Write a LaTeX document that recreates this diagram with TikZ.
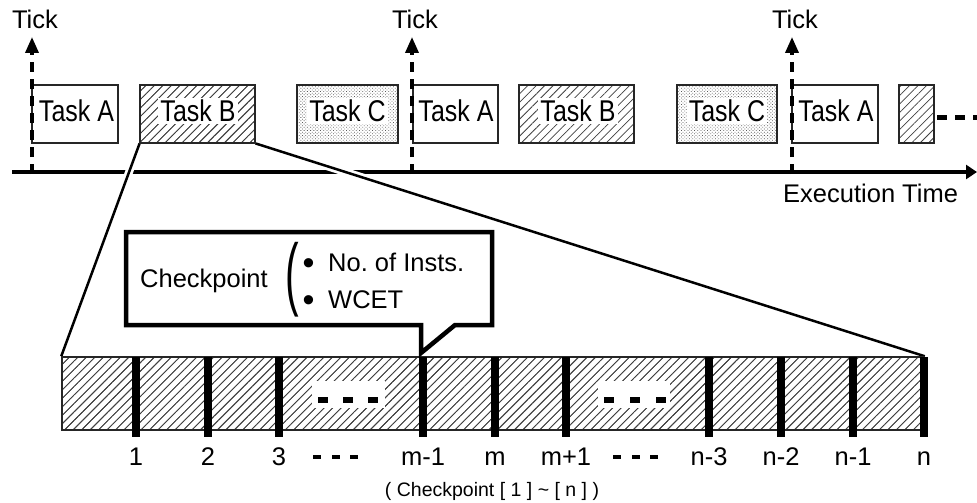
\documentclass[tikz,border=0pt]{standalone}
\usepackage{fontspec}
\setmainfont{Liberation Sans}
\usetikzlibrary{patterns.meta,arrows.meta}

\begin{document}
\begin{tikzpicture}[x=1pt,y=-1pt,
  lbl/.style={font=\fontsize{25.5}{30}\selectfont, inner sep=0pt},
  smalllbl/.style={font=\fontsize{19.5}{23}\selectfont, inner sep=0pt},
  bulletmark/.style={font=\fontsize{34}{36}\selectfont, inner sep=0pt},
  tasktxt/.style={font=\fontsize{25}{30}\selectfont, fill=white, inner xsep=2pt, inner ysep=2.5pt,
                  text height=21.5pt, text depth=0pt},
  taskbox/.style={draw=black!85, line width=1.4pt, minimum height=58pt, inner sep=0pt},
  hatch/.style={pattern={Lines[angle=45,distance=6pt,line width=0.75pt]}, pattern color=black!75},
  dotfill/.style={pattern={Dots[angle=45,distance=2.3pt,radius=0.55pt]}, pattern color=black!65},
  tickarrow/.style={line width=3.5pt, dash pattern=on 10pt off 7pt,
                    -{Triangle[width=13pt,length=16pt]}},
  timeaxis/.style={line width=4pt, -{Triangle[width=14pt,length=11pt]}},
  zoomline/.style={line width=2.5pt, preaction={draw=white, line width=8pt}},
  callout/.style={draw, fill=white, line width=4.5pt, line join=miter},
  cpbar/.style={fill=black, minimum width=8.5pt, minimum height=80pt, inner sep=0pt},
  seqbar/.style={draw=black!85, line width=1.5pt, hatch, inner sep=0pt},
  gap/.style={fill=white},
  bigdash/.style={fill=black}
]
\useasboundingbox (0,0) rectangle (977,503);
\newcommand{\tallname}[1]{\scalebox{1}[1.2]{#1}}

% time axis
\coordinate (ax0) at (12,172);
\coordinate (ax1) at (977,172);
\draw[timeaxis] (ax0) -- (ax1);
\node[lbl, anchor=base west] (exec) at (783,202) {Execution Time};

% scheduled task instances
\node[taskbox, minimum width=86pt] (a1) at (75,114) {};
\node[taskbox, hatch, minimum width=115pt] (b1) at (197.5,114) {};
\node[taskbox, dotfill, minimum width=101pt] (c1) at (347.5,114) {};
\node[taskbox, minimum width=85pt] (a2) at (455.5,114) {};
\node[taskbox, hatch, minimum width=115pt] (b2) at (576.5,114) {};
\node[taskbox, dotfill, minimum width=100pt] (c2) at (727,114) {};
\node[taskbox, minimum width=86pt] (a3) at (835,114) {};
\node[taskbox, hatch, minimum width=35pt] (b3) at (916.5,114) {};

% zoom-in lines from Task B to the checkpoint sequence
\node[seqbar, minimum width=862pt, minimum height=73pt] (seq) at (493,393.5) {};
\draw[zoomline] (b1.south west) -- (seq.north west);
\draw[zoomline] (b1.south east) -- (seq.north east);
\node[taskbox, hatch, minimum width=115pt] at (b1) {};
\node[seqbar, minimum width=862pt, minimum height=73pt] at (seq) {};

% task names
\node[tasktxt, fill=none] at (76.5,111) {\tallname{Task A}};
\node[tasktxt] at (198,111) {\tallname{Task B}};
\node[tasktxt] at (347.5,111) {\tallname{Task C}};
\node[tasktxt, fill=none] at (456,111) {\tallname{Task A}};
\node[tasktxt] at (578,111) {\tallname{Task B}};
\node[tasktxt] at (727,111) {\tallname{Task C}};
\node[tasktxt, fill=none] at (836,111) {\tallname{Task A}};

% continuation
\coordinate (cont0) at (934,117);
\coordinate (cont1) at (977,117);
\draw[line width=5pt, dash pattern=on 10pt off 8pt] ([xshift=3pt]cont0) -- (cont1);

% timer ticks
\foreach \x [count=\i] in {32,412,792} {
  \coordinate (tb\i) at (\x,174);
  \coordinate (tt\i) at (\x,37);
  \draw[tickarrow] (tb\i) -- (tt\i);
  \node[lbl, anchor=base] (tick\i) at (\x+3,28.5) {Tick};
}

% checkpoint markers
\foreach \x/\t [count=\i] in {136/1,208/2,279/3,423/m-1,495/m,566/m+1,709/n-3,781/n-2,853/n-1,924/n} {
  \node[cpbar] (cp\i) at (\x,397) {};
  \node[lbl, anchor=base] (cpl\i) at (\x,465) {\t};
}

% elided checkpoints inside the sequence
\fill[gap] (312,381) rectangle (385,408);
\fill[gap] (598,381) rectangle (670,408);
\foreach \x in {318,343,368,604,630,656}
  \fill[bigdash] (\x,397) rectangle (\x+10,403);
\foreach \x in {313,332,350,613,632,650}
  \fill[bigdash] (\x,455) rectangle (\x+8,459);

\node[smalllbl, anchor=base] (range) at (492,496) {( Checkpoint [ 1 ] \textasciitilde{} [ n ] )};

% checkpoint information callout
\coordinate (ptr) at (421,353);
\draw[callout] (126,232) -- (492,232) -- (492,325) -- (455,325) -- (ptr)
  -- (421,325) -- (126,325) -- cycle;
\node[lbl, anchor=base west] (cpname) at (140,287) {Checkpoint};
\node[lbl] (paren) at (292,280) {\scalebox{1.6}[3.15]{(}};
\node[bulletmark, anchor=base] (bul1) at (308.5,274.5) {•};
\node[bulletmark, anchor=base] (bul2) at (308.5,311) {•};
\node[lbl, anchor=base west] (item1) at (328,271.5) {No.\ of Insts.};
\node[lbl, anchor=base west] (item2) at (328,308) {WCET};
\end{tikzpicture}
\end{document}
